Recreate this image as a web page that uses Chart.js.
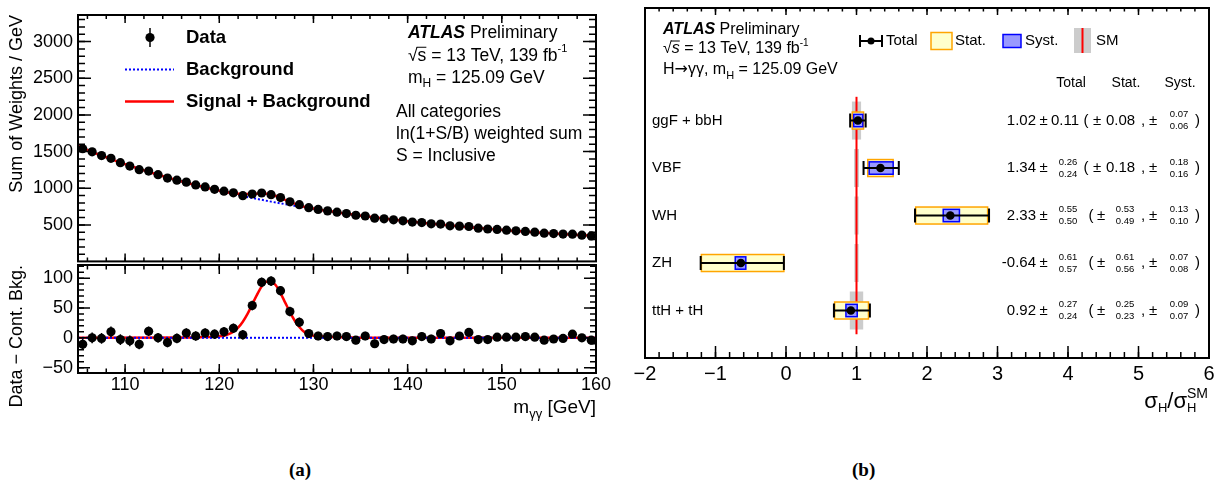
<!DOCTYPE html>
<html>
<head>
<meta charset="utf-8">
<title>H→γγ</title>
<script src="https://cdn.jsdelivr.net/npm/chart.js@4.4.1/dist/chart.umd.min.js"></script>
<style>
  body { margin: 0; background: #fff; }
  #page { position: relative; width: 1227px; height: 494px; overflow: hidden; background: #fff; }
  canvas { position: absolute; }
  .cap { position: absolute; top: 459px; font: bold 19px "Liberation Serif", "Times New Roman", serif; line-height: 22px; }
</style>
</head>
<body>
<div id="page">
  <canvas id="massChart" width="615" height="266" style="left:0;top:0"></canvas>
  <canvas id="ratioChart" width="615" height="180" style="left:0;top:250px"></canvas>
  <canvas id="muChart" width="597" height="430" style="left:630px;top:0"></canvas>
  <div class="cap" style="left:289px">(a)</div>
  <div class="cap" style="left:852px">(b)</div>
</div>
<script>
const SANS = '"Liberation Sans", Arial, sans-serif';
const fnt = (size, style, family) => (style ? style + ' ' : '') + size + 'px ' + (family || SANS);

// (a) diphoton mass spectrum, 1 GeV bins
const massBins = [105.5, 106.5, 107.5, 108.5, 109.5, 110.5, 111.5, 112.5, 113.5, 114.5, 115.5, 116.5, 117.5, 118.5,
  119.5, 120.5, 121.5, 122.5, 123.5, 124.5, 125.5, 126.5, 127.5, 128.5, 129.5, 130.5, 131.5, 132.5, 133.5, 134.5,
  135.5, 136.5, 137.5, 138.5, 139.5, 140.5, 141.5, 142.5, 143.5, 144.5, 145.5, 146.5, 147.5, 148.5, 149.5, 150.5,
  151.5, 152.5, 153.5, 154.5, 155.5, 156.5, 157.5, 158.5, 159.5];
const dataWeights = [1539, 1497, 1446, 1409, 1349, 1303, 1254, 1235, 1185, 1139, 1110, 1084, 1046, 1019, 986, 960,
  938, 899, 922, 936, 913, 874, 816, 776, 736, 712, 692, 674, 655, 632, 622, 593, 584, 570, 556, 539, 532, 515, 512,
  488, 484, 479, 456, 445, 439, 429, 420, 412, 402, 388, 382, 375, 374, 361, 350];
const dataErrors = [9, 9, 9, 9, 9, 9, 8, 8, 8, 8, 8, 8, 8, 8, 8, 8, 8, 8, 8, 8, 8, 8, 8, 8, 7, 7, 7, 7, 7, 7, 7, 7,
  7, 7, 7, 7, 7, 7, 7, 7, 6, 6, 6, 6, 6, 6, 6, 6, 6, 6, 6, 6, 6, 6, 6];
const residuals = [-11, 0, -1, 10, -3, -5, -11, 11, 0, -8, -1, 8, 3, 8, 6, 10, 16, 5, 54, 93, 95, 79, 44, 26, 7, 3,
  2, 3, 2, -4, 3, -10, -3, -2, -2, -5, 2, -2, 7, -5, 3, 9, -3, -3, 1, 1, 1, 2, 1, -4, -2, -1, 6, 0, -4];

const bkgMass = [105, 105.5, 106.5, 107.5, 108.5, 109.5, 110.5, 111.5, 112.5, 113.5, 114.5, 115.5, 116.5, 117.5,
  118.5, 119.5, 120.5, 121.5, 122.5, 123.5, 124.5, 125.5, 126.5, 127.5, 128.5, 129.5, 130.5, 131.5, 132.5, 133.5,
  134.5, 135.5, 136.5, 137.5, 138.5, 139.5, 140.5, 141.5, 142.5, 143.5, 144.5, 145.5, 146.5, 147.5, 148.5, 149.5,
  150.5, 151.5, 152.5, 153.5, 154.5, 155.5, 156.5, 157.5, 158.5, 159.5, 160];
const bkgCurve = [1577, 1550, 1497, 1447, 1399, 1352, 1308, 1265, 1224, 1185, 1147, 1111, 1076, 1043, 1011, 980,
  950, 922, 894, 868, 843, 818, 795, 772, 750, 729, 709, 690, 671, 653, 636, 619, 603, 587, 572, 558, 544, 530, 517,
  505, 493, 481, 470, 459, 448, 438, 428, 419, 410, 401, 392, 384, 376, 368, 361, 354, 350];

const sbMass = [105, 105.5, 106.5, 107.5, 108.5, 109.5, 110.5, 111.5, 112.5, 113.5, 114.5, 115.5, 116.5, 117.5,
  118, 118.5, 119, 119.5, 120, 120.5, 121, 121.5, 122, 122.5, 123, 123.5, 124, 124.5, 125, 125.5, 126, 126.5, 127,
  127.5, 128, 128.5, 129, 129.5, 130, 130.5, 131, 132, 133, 133.5, 134.5, 135.5, 136.5, 137.5, 138.5, 139.5, 140.5,
  141.5, 142.5, 143.5, 144.5, 145.5, 146.5, 147.5, 148.5, 149.5, 150.5, 151.5, 152.5, 153.5, 154.5, 155.5, 156.5,
  157.5, 158.5, 159.5, 160];
const sbCurve = [1577, 1550, 1497, 1447, 1399, 1352, 1308, 1265, 1224, 1185, 1147, 1111, 1076, 1043,
  1028, 1012, 997, 982, 968, 954, 942, 932, 925, 921, 921, 924, 927, 929, 924, 912, 894, 870, 842,
  815, 790, 768, 749, 735, 723, 712, 702, 682, 663, 653, 636, 619, 603, 587, 572, 558, 544,
  530, 517, 505, 493, 481, 470, 459, 448, 438, 428, 419, 410, 401, 392, 384, 376,
  368, 361, 354, 350];

const sigMass = [105, 117, 118, 118.5, 119, 119.5, 120, 120.5, 121, 121.5, 122, 122.5, 123, 123.5, 124, 124.5, 125,
  125.5, 126, 126.5, 127, 127.5, 128, 128.5, 129, 129.5, 130, 130.5, 131, 132, 133, 134, 136, 160];
const sigCurve = [0, 0.5, 1, 1.3, 1.5, 2, 2.5, 3.5, 6, 10, 17, 27, 40, 56, 72, 86, 94,
  94, 88, 75, 59, 43, 29, 18, 10, 6, 3.5, 2.5, 2, 1.5, 1, 0.6, 0.2, 0];

const massTicks = [110, 120, 130, 140, 150, 160];
const weightTicks = [500, 1000, 1500, 2000, 2500, 3000];
const residualTicks = [-50, 0, 50, 100];

// (b) signal strengths per production mode
const prodModes = ['ggF + bbH', 'VBF', 'WH', 'ZH', 'ttH + tH'];
const muValues = [1.02, 1.34, 2.33, -0.64, 0.92];
const totalUp = [0.11, 0.26, 0.55, 0.61, 0.27];
const totalDown = [0.11, 0.24, 0.50, 0.57, 0.24];
const statUp = [0.08, 0.18, 0.53, 0.61, 0.25];
const statDown = [0.08, 0.18, 0.49, 0.56, 0.23];
const systUp = [0.07, 0.18, 0.13, 0.07, 0.09];
const systDown = [0.06, 0.16, 0.10, 0.08, 0.07];
const smUnc = [0.065, 0.035, 0.03, 0.03, 0.095];
const muTicks = [-2, -1, 0, 1, 2, 3, 4, 5, 6];

const minusSign = v => String(v).replace('-', '\u2212');

function steps(from, to, d) {
  const out = [];
  for (let v = from; v <= to + 1e-9; v += d) out.push(Math.round(v * 1000) / 1000);
  return out;
}

function tickMarks(ctx, area, scale, edge, values, len) {
  ctx.beginPath();
  values.forEach(v => {
    if (v < scale.min || v > scale.max) return;
    const p = scale.getPixelForValue(v);
    if (edge === 'left') { ctx.moveTo(area.left, p); ctx.lineTo(area.left + len, p); }
    else if (edge === 'right') { ctx.moveTo(area.right, p); ctx.lineTo(area.right - len, p); }
    else if (edge === 'top') { ctx.moveTo(p, area.top); ctx.lineTo(p, area.top + len); }
    else { ctx.moveTo(p, area.bottom); ctx.lineTo(p, area.bottom - len); }
  });
  ctx.stroke();
}

function frame(ctx, area) {
  ctx.lineWidth = 2;
  ctx.strokeRect(area.left, area.top, area.right - area.left, area.bottom - area.top);
}

// parts: [text, size, style, dy, overbar, family]
function rich(ctx, x, y, parts, align) {
  ctx.textBaseline = 'middle';
  ctx.textAlign = 'left';
  if (align === 'right') {
    let w = 0;
    parts.forEach(p => { ctx.font = fnt(p[1], p[2], p[5]); w += ctx.measureText(p[0]).width; });
    x -= w;
  }
  parts.forEach(p => {
    ctx.font = fnt(p[1], p[2], p[5]);
    const w = ctx.measureText(p[0]).width;
    ctx.fillText(p[0], x, y + (p[3] || 0));
    if (p[4]) {
      ctx.lineWidth = 1;
      ctx.beginPath();
      ctx.moveTo(x - 1, y - p[1] * 0.5);
      ctx.lineTo(x + w, y - p[1] * 0.5);
      ctx.stroke();
    }
    x += w;
  });
  return x;
}

function errorBarPlugin(values) {
  return {
    id: 'errorBars',
    beforeDatasetDraw(chart, args) {
      if (args.index !== 0) return;
      const { ctx, scales: { x, y } } = chart;
      ctx.save();
      ctx.strokeStyle = '#000';
      ctx.lineWidth = 1.5;
      ctx.beginPath();
      massBins.forEach((m, i) => {
        const px = x.getPixelForValue(m);
        ctx.moveTo(px, y.getPixelForValue(values[i] - dataErrors[i]));
        ctx.lineTo(px, y.getPixelForValue(values[i] + dataErrors[i]));
      });
      ctx.stroke();
      ctx.restore();
    }
  };
}

function massAxis(show) {
  return {
    type: 'linear', min: 105, max: 160, display: show,
    grid: { display: false, drawTicks: false }, border: { display: false },
    afterBuildTicks: s => { s.ticks = massTicks.map(v => ({ value: v })); },
    afterFit: s => { if (show) s.height = 57; s.paddingLeft = 0; s.paddingRight = 0; },
    ticks: { autoSkip: false, maxRotation: 0, padding: 1, color: '#000', font: { family: SANS, size: 18 } }
  };
}

function valueAxis(min, max, ticks, title) {
  return {
    type: 'linear', min: min, max: max,
    grid: { display: false, drawTicks: false }, border: { display: false },
    afterBuildTicks: s => { s.ticks = ticks.map(v => ({ value: v })); },
    afterFit: s => { s.width = 78; s.paddingTop = 0; s.paddingBottom = 0; },
    ticks: { padding: 5, color: '#000', font: { family: SANS, size: 18 }, callback: minusSign },
    title: { display: true, text: title, align: 'end', color: '#000', font: { family: SANS, size: 18 },
      padding: { top: 6, bottom: 0 } }
  };
}

const baseOptions = {
  responsive: false, animation: false, events: [],
  plugins: { legend: { display: false }, tooltip: { enabled: false } }
};

const massDecor = {
  id: 'massDecor',
  afterDraw(chart) {
    const { ctx, chartArea: a, scales: { x, y } } = chart;
    ctx.save();
    ctx.strokeStyle = '#000';
    ctx.fillStyle = '#000';
    ctx.lineWidth = 1.5;
    tickMarks(ctx, a, y, 'left', weightTicks, 13);
    tickMarks(ctx, a, y, 'left', steps(100, 3300, 100), 7);
    tickMarks(ctx, a, y, 'right', weightTicks, 13);
    tickMarks(ctx, a, y, 'right', steps(100, 3300, 100), 7);
    tickMarks(ctx, a, x, 'top', massTicks, 8);
    tickMarks(ctx, a, x, 'top', steps(106, 158, 2), 4);
    tickMarks(ctx, a, x, 'bottom', massTicks, 8);
    tickMarks(ctx, a, x, 'bottom', steps(106, 158, 2), 4);
    frame(ctx, a);

    // legend
    ctx.lineWidth = 1.5;
    ctx.beginPath(); ctx.moveTo(150, 28); ctx.lineTo(150, 47); ctx.stroke();
    ctx.beginPath(); ctx.arc(150, 37.5, 4.6, 0, Math.PI * 2); ctx.fill();
    ctx.strokeStyle = '#0000ff'; ctx.lineWidth = 2; ctx.setLineDash([2, 2]);
    ctx.beginPath(); ctx.moveTo(125, 69.5); ctx.lineTo(174, 69.5); ctx.stroke();
    ctx.setLineDash([]);
    ctx.strokeStyle = '#ff0000'; ctx.lineWidth = 2.5;
    ctx.beginPath(); ctx.moveTo(125, 101.5); ctx.lineTo(174, 101.5); ctx.stroke();
    ctx.strokeStyle = '#000';
    rich(ctx, 186, 38, [['Data', 18.5, 'bold']]);
    rich(ctx, 186, 70, [['Background', 18.5, 'bold']]);
    rich(ctx, 186, 102, [['Signal + Background', 18.5, 'bold']]);

    // labels
    rich(ctx, 408, 33, [['ATLAS', 17.5, 'italic bold'], [' Preliminary', 17.5]]);
    rich(ctx, 408, 56, [['\u221a', 17.5], ['s', 17.5, '', 0, true], [' = 13 TeV, 139 fb', 17.5], ['-1', 11, '', -7]]);
    rich(ctx, 408, 78, [['m', 17.5], ['H', 12, '', 6], [' = 125.09 GeV', 17.5]]);
    rich(ctx, 396, 112, [['All categories', 17.5]]);
    rich(ctx, 396, 134.5, [['ln(1+S/B) weighted sum', 17.5]]);
    rich(ctx, 396, 156.5, [['S = Inclusive', 17.5]]);
    ctx.restore();
  }
};

const ratioDecor = {
  id: 'ratioDecor',
  afterDraw(chart) {
    const { ctx, chartArea: a, scales: { x, y } } = chart;
    ctx.save();
    ctx.strokeStyle = '#000';
    ctx.fillStyle = '#000';
    ctx.lineWidth = 1.5;
    tickMarks(ctx, a, y, 'left', residualTicks, 12);
    tickMarks(ctx, a, y, 'left', steps(-50, 120, 10), 6);
    tickMarks(ctx, a, y, 'right', residualTicks, 12);
    tickMarks(ctx, a, y, 'right', steps(-50, 120, 10), 6);
    tickMarks(ctx, a, x, 'top', massTicks, 9);
    tickMarks(ctx, a, x, 'top', steps(106, 158, 2), 4.5);
    tickMarks(ctx, a, x, 'bottom', massTicks, 9);
    tickMarks(ctx, a, x, 'bottom', steps(106, 158, 2), 4.5);
    frame(ctx, a);
    rich(ctx, a.right, 158, [['m', 19], ['\u03b3\u03b3', 13, '', 6], [' [GeV]', 19]], 'right');
    ctx.restore();
  }
};

new Chart(document.getElementById('massChart'), {
  type: 'line',
  data: {
    datasets: [
      { data: massBins.map((m, i) => ({ x: m, y: dataWeights[i] })), showLine: false,
        pointRadius: 4.6, pointBackgroundColor: '#000', pointBorderWidth: 0 },
      { data: sbMass.map((m, i) => ({ x: m, y: sbCurve[i] })), borderColor: '#ff0000', borderWidth: 2.5,
        pointRadius: 0, cubicInterpolationMode: 'monotone' },
      { data: bkgMass.map((m, i) => ({ x: m, y: bkgCurve[i] })), borderColor: '#0000ff', borderWidth: 2,
        borderDash: [2, 2], pointRadius: 0, cubicInterpolationMode: 'monotone' }
    ]
  },
  options: Object.assign({}, baseOptions, {
    layout: { padding: { left: 0, top: 15, right: 19, bottom: 1 } },
    scales: { x: massAxis(false), y: valueAxis(3, 3363, weightTicks, 'Sum of Weights / GeV') }
  }),
  plugins: [errorBarPlugin(dataWeights), massDecor]
});

new Chart(document.getElementById('ratioChart'), {
  type: 'line',
  data: {
    datasets: [
      { data: massBins.map((m, i) => ({ x: m, y: residuals[i] })), showLine: false,
        pointRadius: 4.6, pointBackgroundColor: '#000', pointBorderWidth: 0 },
      { data: [{ x: 105, y: 0 }, { x: 160, y: 0 }], borderColor: '#0000ff', borderWidth: 2,
        borderDash: [2, 2], pointRadius: 0 },
      { data: sigMass.map((m, i) => ({ x: m, y: sigCurve[i] })), borderColor: '#ff0000', borderWidth: 2.5,
        pointRadius: 0, cubicInterpolationMode: 'monotone' }
    ]
  },
  options: Object.assign({}, baseOptions, {
    layout: { padding: { left: 0, top: 15, right: 19, bottom: 0 } },
    scales: { x: massAxis(true), y: valueAxis(-59, 122, residualTicks, 'Data \u2212 Cont. Bkg.') }
  }),
  plugins: [errorBarPlugin(residuals), ratioDecor]
});

function stack(ctx, cx, py, up, down) {
  ctx.font = fnt(9.5);
  ctx.textAlign = 'center';
  ctx.fillText(up.toFixed(2), cx, py - 6);
  ctx.fillText(down.toFixed(2), cx, py + 6);
}

function box(ctx, x0, x1, py, half, fill, line) {
  ctx.fillStyle = fill;
  ctx.fillRect(x0, py - half, x1 - x0, 2 * half);
  ctx.strokeStyle = line;
  ctx.lineWidth = 1.5;
  ctx.strokeRect(x0, py - half, x1 - x0, 2 * half);
}

const muDecor = {
  id: 'muDecor',
  beforeDatasetsDraw(chart) {
    const { ctx, scales: { x, y } } = chart;
    const n = prodModes.length;
    ctx.save();
    ctx.fillStyle = '#cccccc';
    prodModes.forEach((m, i) => {
      const py = y.getPixelForValue(n - i);
      const a = x.getPixelForValue(1 - smUnc[i]);
      const b = x.getPixelForValue(1 + smUnc[i]);
      ctx.fillRect(a, py - 19, b - a, 38);
    });
    ctx.strokeStyle = '#ff0000';
    ctx.lineWidth = 2;
    ctx.beginPath();
    ctx.moveTo(x.getPixelForValue(1), y.getPixelForValue(0.5));
    ctx.lineTo(x.getPixelForValue(1), y.getPixelForValue(n + 0.5));
    ctx.stroke();
    prodModes.forEach((m, i) => {
      const py = y.getPixelForValue(n - i);
      const v = muValues[i];
      box(ctx, x.getPixelForValue(v - statDown[i]), x.getPixelForValue(v + statUp[i]), py, 8.5, '#ffffcc', '#ffa500');
      box(ctx, x.getPixelForValue(v - systDown[i]), x.getPixelForValue(v + systUp[i]), py, 6.2, '#9999ff', '#0000ff');
      const lo = x.getPixelForValue(v - totalDown[i]);
      const hi = x.getPixelForValue(v + totalUp[i]);
      ctx.strokeStyle = '#000';
      ctx.lineWidth = 2;
      ctx.beginPath();
      ctx.moveTo(lo, py); ctx.lineTo(hi, py);
      ctx.moveTo(lo, py - 7); ctx.lineTo(lo, py + 7);
      ctx.moveTo(hi, py - 7); ctx.lineTo(hi, py + 7);
      ctx.stroke();
    });
    ctx.restore();
  },
  afterDraw(chart) {
    const { ctx, chartArea: a, scales: { x, y } } = chart;
    const n = prodModes.length;
    ctx.save();
    ctx.strokeStyle = '#000';
    ctx.fillStyle = '#000';
    ctx.lineWidth = 1.5;
    tickMarks(ctx, a, x, 'bottom', muTicks, 12);
    tickMarks(ctx, a, x, 'bottom', steps(-2, 6, 0.2), 6);
    tickMarks(ctx, a, x, 'top', muTicks, 7);
    tickMarks(ctx, a, x, 'top', steps(-2, 6, 0.2), 3.5);
    frame(ctx, a);

    ctx.translate(-630, 0);
    rich(ctx, 663, 30, [['ATLAS', 16, 'italic bold'], [' Preliminary', 16]]);
    rich(ctx, 663, 49, [['\u221a', 16], ['s', 16, 'italic', 0, true], [' = 13 TeV, 139 fb', 16], ['-1', 10, '', -6]]);
    rich(ctx, 663, 70, [['H', 16], ['\u2192', 16, '', 0, false, '"DejaVu Sans", sans-serif'],
      ['\u03b3\u03b3, m', 16], ['H', 11, '', 6], [' = 125.09 GeV', 16]]);

    // legend
    ctx.lineWidth = 2;
    ctx.beginPath();
    ctx.moveTo(860, 41); ctx.lineTo(882, 41);
    ctx.moveTo(860, 35); ctx.lineTo(860, 47);
    ctx.moveTo(882, 35); ctx.lineTo(882, 47);
    ctx.stroke();
    ctx.beginPath(); ctx.arc(871, 41, 3.5, 0, Math.PI * 2); ctx.fill();
    box(ctx, 931, 952, 41, 8.5, '#ffffcc', '#ffa500');
    box(ctx, 1003, 1021, 41, 6.5, '#9999ff', '#0000ff');
    ctx.fillStyle = '#cccccc';
    ctx.fillRect(1074, 28, 17, 25);
    ctx.strokeStyle = '#ff0000'; ctx.lineWidth = 2;
    ctx.beginPath(); ctx.moveTo(1082.5, 28); ctx.lineTo(1082.5, 53); ctx.stroke();
    ctx.fillStyle = '#000'; ctx.strokeStyle = '#000';
    rich(ctx, 886, 41, [['Total', 15]]);
    rich(ctx, 955, 41, [['Stat.', 15]]);
    rich(ctx, 1025, 41, [['Syst.', 15]]);
    rich(ctx, 1096, 41, [['SM', 15]]);

    // column headers and values
    ctx.font = fnt(14);
    ctx.textAlign = 'center';
    ctx.fillText('Total', 1071, 83);
    ctx.fillText('Stat.', 1126, 83);
    ctx.fillText('Syst.', 1180, 83);
    prodModes.forEach((m, i) => {
      const py = y.getPixelForValue(n - i);
      ctx.font = fnt(15);
      ctx.textAlign = 'right';
      ctx.fillText(muValues[i].toFixed(2), 1036, py);
      ctx.textAlign = 'center';
      ctx.fillText('\u00b1', 1043.5, py);
      if (totalUp[i] === totalDown[i]) {
        ctx.textAlign = 'left';
        ctx.fillText(totalUp[i].toFixed(2), 1051, py);
      } else {
        stack(ctx, 1068, py, totalUp[i], totalDown[i]);
      }
      const symStat = statUp[i] === statDown[i];
      ctx.font = fnt(15);
      ctx.textAlign = 'center';
      ctx.fillText('(', symStat ? 1086 : 1091, py);
      ctx.fillText('\u00b1', symStat ? 1097 : 1101, py);
      if (symStat) {
        ctx.textAlign = 'left';
        ctx.fillText(statUp[i].toFixed(2), 1106, py);
      } else {
        stack(ctx, 1125, py, statUp[i], statDown[i]);
      }
      ctx.font = fnt(15);
      ctx.textAlign = 'center';
      ctx.fillText(',', 1143, py);
      ctx.fillText('\u00b1', 1153, py);
      stack(ctx, 1179, py, systUp[i], systDown[i]);
      ctx.font = fnt(15);
      ctx.textAlign = 'center';
      ctx.fillText(')', 1197.5, py);
    });

    // axis title sigma_H / sigma_H^SM
    ctx.textAlign = 'left';
    ctx.textBaseline = 'middle';
    ctx.font = fnt(14);
    const wSM = ctx.measureText('SM').width;
    let tx = rich(ctx, 1209 - wSM - 1, 402, [['\u03c3', 22], ['H', 13, '', 6], ['/', 22], ['\u03c3', 22]], 'right');
    ctx.font = fnt(14);
    ctx.fillText('SM', tx, 394);
    ctx.font = fnt(13);
    ctx.fillText('H', tx, 408);
    ctx.restore();
  }
};

new Chart(document.getElementById('muChart'), {
  type: 'scatter',
  data: {
    datasets: [{
      data: muValues.map((v, i) => ({ x: v, y: prodModes.length - i })),
      pointRadius: 4.3, pointBackgroundColor: '#000', pointBorderWidth: 0
    }]
  },
  options: Object.assign({}, baseOptions, {
    layout: { padding: { left: 15, top: 8, right: 18, bottom: 0 } },
    scales: {
      x: {
        type: 'linear', min: -2, max: 6,
        grid: { display: false, drawTicks: false }, border: { display: false },
        afterBuildTicks: s => { s.ticks = muTicks.map(v => ({ value: v })); },
        afterFit: s => { s.height = 72; s.paddingLeft = 0; s.paddingRight = 0; },
        ticks: { autoSkip: false, maxRotation: 0, padding: 4, color: '#000',
          font: { family: SANS, size: 20 }, callback: minusSign }
      },
      y: {
        type: 'linear', min: 0, max: 7.37,
        grid: { display: false, drawTicks: false }, border: { display: false },
        afterBuildTicks: s => { s.ticks = prodModes.map((m, i) => ({ value: prodModes.length - i })); },
        afterFit: s => { s.width = 0; s.paddingTop = 0; s.paddingBottom = 0; },
        ticks: { mirror: true, padding: 7, color: '#000', font: { family: SANS, size: 15 },
          callback: v => prodModes[prodModes.length - v] }
      }
    }
  }),
  plugins: [muDecor]
});
</script>
</body>
</html>
